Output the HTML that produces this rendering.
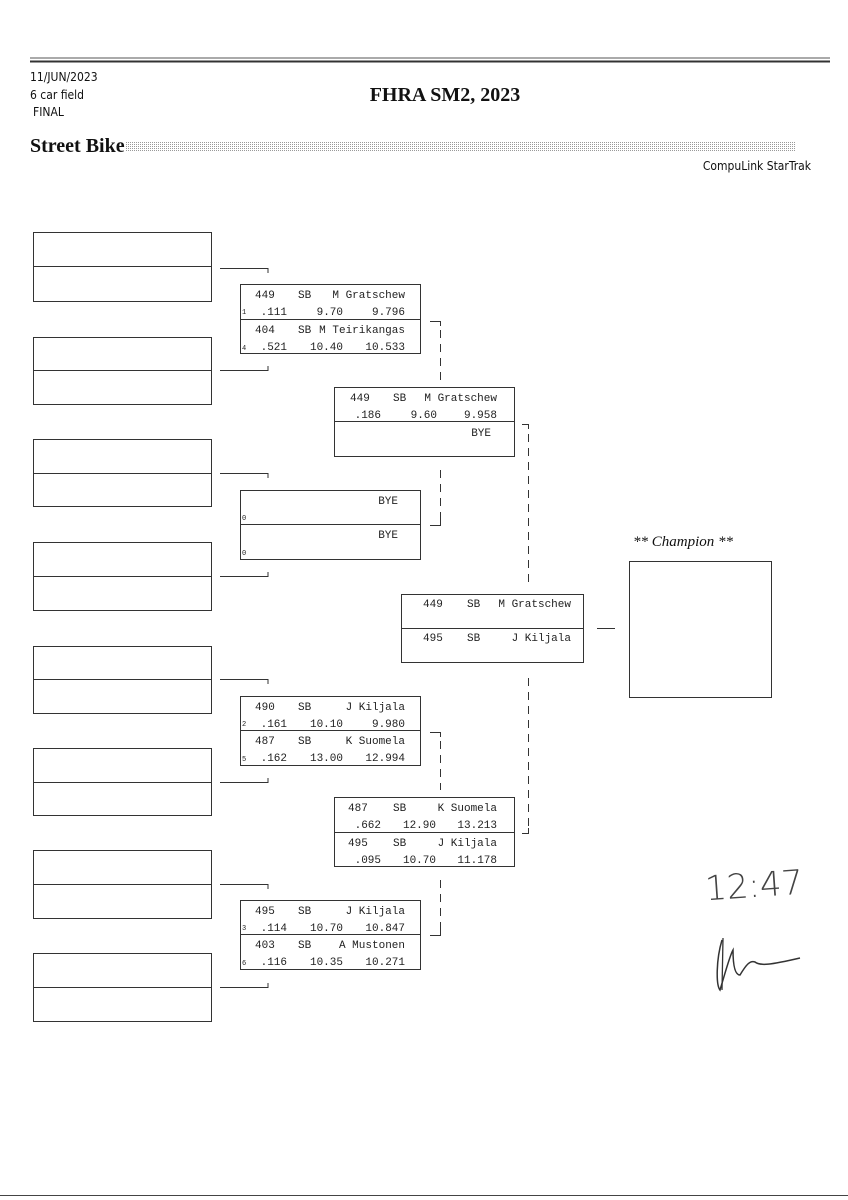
<!DOCTYPE html>
<html><head><meta charset="utf-8"><style>
html,body{margin:0;padding:0;background:#fff;}
svg{display:block}
.m{font-family:"Liberation Mono",monospace;font-size:11px;fill:#222}
.s{font-family:"Liberation Mono",monospace;font-size:7px;fill:#222}
.e{text-anchor:end}
.sans{font-family:"DejaVu Sans Condensed","Liberation Sans",sans-serif;fill:#111}
.serif{font-family:"Liberation Serif",serif;fill:#111}
</style></head><body>
<svg width="848" height="1200" viewBox="0 0 848 1200" xmlns="http://www.w3.org/2000/svg">
<defs>
<pattern id="dots" width="2" height="2" patternUnits="userSpaceOnUse"><rect width="1" height="1" fill="#999"/></pattern>
</defs>
<rect width="848" height="1200" fill="#fff"/>
<line x1="30" y1="58" x2="830" y2="58" stroke="#555" stroke-width="1"/>
<line x1="30" y1="61.5" x2="830" y2="61.5" stroke="#333" stroke-width="2"/>
<text x="30" y="81" class="sans" font-size="12">11/JUN/2023</text>
<text x="30" y="99" class="sans" font-size="12">6 car field</text>
<text x="33" y="116" class="sans" font-size="12">FINAL</text>
<text x="445" y="101" class="serif" font-size="20" font-weight="bold" text-anchor="middle">FHRA SM2, 2023</text>
<text x="30" y="152" class="serif" font-size="20" font-weight="bold">Street Bike</text>
<rect x="125" y="142" width="670" height="9" fill="url(#dots)"/>
<text x="811" y="170" class="sans" font-size="12" text-anchor="end">CompuLink StarTrak</text>

<g fill="none" stroke="#333" stroke-width="1">
<rect x="33.5" y="232.5" width="178" height="69"/><line x1="33" y1="266.5" x2="211" y2="266.5"/>
<rect x="33.5" y="337.5" width="178" height="67"/><line x1="33" y1="370.5" x2="211" y2="370.5"/>
<rect x="33.5" y="439.5" width="178" height="67"/><line x1="33" y1="473.5" x2="211" y2="473.5"/>
<rect x="33.5" y="542.5" width="178" height="68"/><line x1="33" y1="576.5" x2="211" y2="576.5"/>
<rect x="33.5" y="646.5" width="178" height="67"/><line x1="33" y1="679.5" x2="211" y2="679.5"/>
<rect x="33.5" y="748.5" width="178" height="67"/><line x1="33" y1="782.5" x2="211" y2="782.5"/>
<rect x="33.5" y="850.5" width="178" height="68"/><line x1="33" y1="884.5" x2="211" y2="884.5"/>
<rect x="33.5" y="953.5" width="178" height="68"/><line x1="33" y1="987.5" x2="211" y2="987.5"/>
<path d="M220 268.5H268V273M220 370.5H268V366"/>
<path d="M220 473.5H268V478M220 576.5H268V572"/>
<path d="M220 679.5H268V684M220 782.5H268V778"/>
<path d="M220 884.5H268V889M220 987.5H268V983"/>
<rect x="240.5" y="284.5" width="180" height="69"/><line x1="240" y1="319.5" x2="420" y2="319.5"/>
<rect x="240.5" y="490.5" width="180" height="69"/><line x1="240" y1="524.5" x2="420" y2="524.5"/>
<rect x="240.5" y="696.5" width="180" height="69"/><line x1="240" y1="730.5" x2="420" y2="730.5"/>
<rect x="240.5" y="900.5" width="180" height="69"/><line x1="240" y1="934.5" x2="420" y2="934.5"/>
<rect x="334.5" y="387.5" width="180" height="69"/><line x1="334" y1="421.5" x2="514" y2="421.5"/>
<rect x="334.5" y="797.5" width="180" height="69"/><line x1="334" y1="832.5" x2="514" y2="832.5"/>
<rect x="401.5" y="594.5" width="182" height="68"/><line x1="401" y1="628.5" x2="583" y2="628.5"/>
<rect x="629.5" y="561.5" width="142" height="136"/>
<line x1="597" y1="628.5" x2="615" y2="628.5"/>
<path d="M430 321.5H440.5V326"/><path d="M440.5 330V380" stroke-dasharray="8,6"/>
<path d="M440.5 470V520" stroke-dasharray="8,6"/><path d="M440.5 520V525.5H430"/>
<path d="M430 732.5H440.5V737"/><path d="M440.5 741V790" stroke-dasharray="8,6"/>
<path d="M440.5 880V930" stroke-dasharray="8,6"/><path d="M440.5 930V935.5H430"/>
<path d="M522 424.5H528.5V429"/><path d="M528.5 434V582" stroke-dasharray="8,6"/>
<path d="M528.5 678V828" stroke-dasharray="8,6"/><path d="M528.5 828V833.5H522"/>
</g>

<text class="m" x="255" y="298">449</text><text class="m" x="298" y="298">SB</text><text class="m e" x="405" y="298">M Gratschew</text>
<text class="s" x="242" y="314">1</text><text class="m e" x="287" y="315">.111</text><text class="m e" x="343" y="315">9.70</text><text class="m e" x="405" y="315">9.796</text>
<text class="m" x="255" y="333">404</text><text class="m" x="298" y="333">SB</text><text class="m e" x="405" y="333">M Teirikangas</text>
<text class="s" x="242" y="350">4</text><text class="m e" x="287" y="350">.521</text><text class="m e" x="343" y="350">10.40</text><text class="m e" x="405" y="350">10.533</text>
<text class="m e" x="398" y="504">BYE</text>
<text class="s" x="242" y="520">0</text>
<text class="m e" x="398" y="538">BYE</text>
<text class="s" x="242" y="555">0</text>
<text class="m" x="255" y="710">490</text><text class="m" x="298" y="710">SB</text><text class="m e" x="405" y="710">J Kiljala</text>
<text class="s" x="242" y="726">2</text><text class="m e" x="287" y="727">.161</text><text class="m e" x="343" y="727">10.10</text><text class="m e" x="405" y="727">9.980</text>
<text class="m" x="255" y="744">487</text><text class="m" x="298" y="744">SB</text><text class="m e" x="405" y="744">K Suomela</text>
<text class="s" x="242" y="761">5</text><text class="m e" x="287" y="761">.162</text><text class="m e" x="343" y="761">13.00</text><text class="m e" x="405" y="761">12.994</text>
<text class="m" x="255" y="914">495</text><text class="m" x="298" y="914">SB</text><text class="m e" x="405" y="914">J Kiljala</text>
<text class="s" x="242" y="930">3</text><text class="m e" x="287" y="931">.114</text><text class="m e" x="343" y="931">10.70</text><text class="m e" x="405" y="931">10.847</text>
<text class="m" x="255" y="948">403</text><text class="m" x="298" y="948">SB</text><text class="m e" x="405" y="948">A Mustonen</text>
<text class="s" x="242" y="965">6</text><text class="m e" x="287" y="965">.116</text><text class="m e" x="343" y="965">10.35</text><text class="m e" x="405" y="965">10.271</text>
<text class="m" x="350" y="401">449</text><text class="m" x="393" y="401">SB</text><text class="m e" x="497" y="401">M Gratschew</text>
<text class="m e" x="381" y="418">.186</text><text class="m e" x="437" y="418">9.60</text><text class="m e" x="497" y="418">9.958</text>
<text class="m e" x="491" y="436">BYE</text>
<text class="m" x="348" y="811">487</text><text class="m" x="393" y="811">SB</text><text class="m e" x="497" y="811">K Suomela</text>
<text class="m e" x="381" y="828">.662</text><text class="m e" x="436" y="828">12.90</text><text class="m e" x="497" y="828">13.213</text>
<text class="m" x="348" y="846">495</text><text class="m" x="393" y="846">SB</text><text class="m e" x="497" y="846">J Kiljala</text>
<text class="m e" x="381" y="863">.095</text><text class="m e" x="436" y="863">10.70</text><text class="m e" x="497" y="863">11.178</text>
<text class="m" x="423" y="607">449</text><text class="m" x="467" y="607">SB</text><text class="m e" x="571" y="607">M Gratschew</text>
<text class="m" x="423" y="641">495</text><text class="m" x="467" y="641">SB</text><text class="m e" x="571" y="641">J Kiljala</text>
<text x="633" y="546" class="serif" font-size="15" font-style="italic">** Champion **</text>

<text x="705" y="898" font-family="DejaVu Sans,sans-serif" font-size="34" font-weight="200" fill="#444" transform="rotate(-4 740 885)">12:47</text>
<path d="M722 940 C716 960 716 985 720 990 C726 970 730 955 733 950 C733 965 735 975 740 975 C746 965 750 960 755 962 C760 966 770 965 800 958" fill="none" stroke="#333" stroke-width="1.5"/>
<path d="M723 938 L722 990" fill="none" stroke="#333" stroke-width="1.3"/>

<line x1="0" y1="1195.5" x2="848" y2="1195.5" stroke="#444" stroke-width="1"/>
</svg>
</body></html>
